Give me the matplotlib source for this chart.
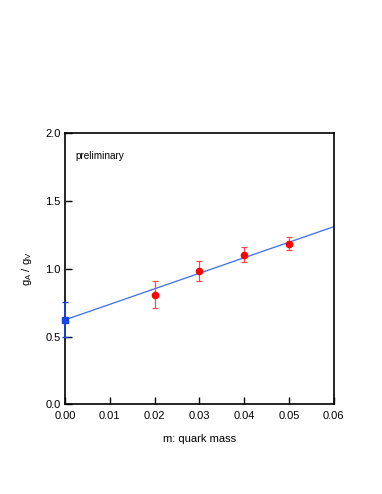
import numpy as np
import matplotlib.pyplot as plt

plt.rcParams['font.family'] = ['Liberation Sans', 'DejaVu Sans']

# data
mass = [0.02, 0.03, 0.04, 0.05]
ratio = [0.81, 0.985, 1.105, 1.183]
ratio_err = [0.10, 0.073, 0.058, 0.048]

chiral_x = [0.0]
chiral_y = [0.623]
chiral_err = [0.13]

fit_x = [0.0, 0.06]
fit_y = [0.623, 1.311]

fig = plt.figure(figsize=(3.82, 4.94), dpi=100)
ax = fig.add_axes([0.170, 0.1816, 0.704, 0.5486])

# linear fit line
ax.plot(fit_x, fit_y, color='#3a6df0', lw=0.9)

# measured points
ax.errorbar(mass, ratio, yerr=ratio_err, fmt='o', color='red', ms=4.5,
            ecolor='#ff4a4a', elinewidth=0.9, capsize=2.5, capthick=0.9)

# extrapolated value at m=0
eb = ax.errorbar(chiral_x, chiral_y, yerr=chiral_err, fmt='s', color='#1646e8', ms=4.5,
                 ecolor='#1646e8', elinewidth=1.2, capsize=2.0, capthick=1.0)
parts = [eb.lines[0]] + list(eb.lines[1]) + list(eb.lines[2])
for a in parts:
    a.set_clip_on(False)
    a.set_zorder(3)

ax.set_xlim(0, 0.06)
ax.set_ylim(0, 2.0)
ax.set_xticks(np.arange(0, 0.061, 0.01))
ax.set_yticks(np.arange(0, 2.01, 0.5))
ax.xaxis.set_major_formatter(plt.FormatStrFormatter('%.2f'))
ax.yaxis.set_major_formatter(plt.FormatStrFormatter('%.1f'))
ax.tick_params(direction='in', length=5, width=1, labelsize=8)
ax.tick_params(axis='x', pad=5)
ax.tick_params(axis='y', pad=3)

for s in ax.spines.values():
    s.set_linewidth(1.2)

ax.set_xlabel('m: quark mass', fontsize=8, labelpad=9)
ax.set_ylabel(r'g$_\mathregular{A}$ / g$_\mathregular{V}$', fontsize=8, labelpad=8)
ax.text(0.04, 0.905, 'preliminary', transform=ax.transAxes, fontsize=7.2)

plt.savefig('out.png', dpi=100)
